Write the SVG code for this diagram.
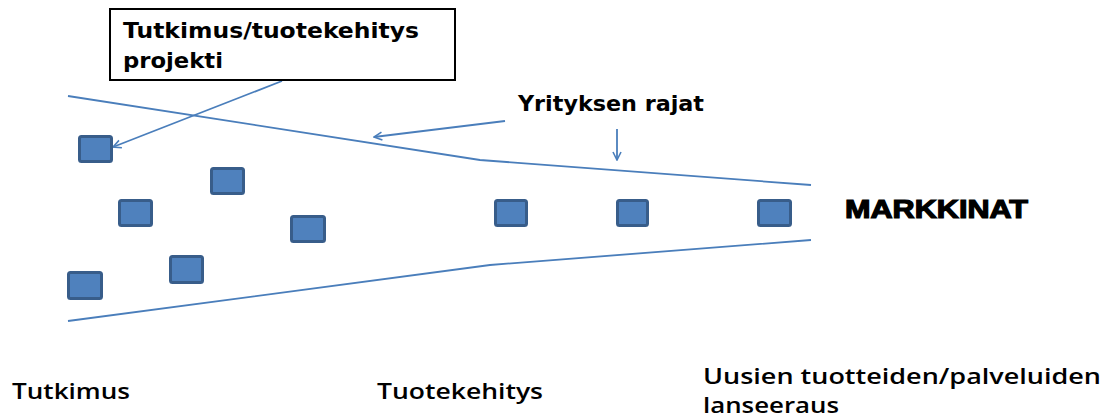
<svg xmlns="http://www.w3.org/2000/svg" width="1110" height="419" viewBox="0 0 1110 419">
  <style>
    .bound { fill: none; stroke: #4A7EBB; stroke-width: 1.8; }
    .arrow { fill: none; stroke: #4A7EBB; stroke-width: 1.8; marker-end: url(#openHead); }
    .proj { fill: #4F81BD; stroke: #385D8A; stroke-width: 3; }
    .callout { font-family: "DejaVu Sans", Verdana, sans-serif; font-weight: bold; font-size: 21px; fill: #000; }
    .phase { font-family: "Open Sans", "Liberation Sans", sans-serif; font-weight: 600; font-size: 22px; fill: #000; }
    .market { font-family: "Liberation Sans", Arial, sans-serif; font-weight: 900; font-size: 26px; fill: #000; stroke: #000; stroke-width: 1.2; }
  </style>
  <defs>
    <marker id="openHead" viewBox="0 0 10 10" refX="9" refY="5" markerWidth="10" markerHeight="10" markerUnits="userSpaceOnUse" orient="auto">
      <path d="M1,1 L9,5 L1,9" fill="none" stroke="#4A7EBB" stroke-width="1.6"/>
    </marker>
  </defs>
  <rect width="1110" height="419" fill="#fff"/>

  <!-- company boundary funnel and pointer arrows -->
  <g id="connectors">
    <polyline class="bound" points="68,96 480,160 811,185"/>
    <polyline class="bound" points="68,321 490,265 811,240"/>
    <line class="arrow" x1="282" y1="81" x2="113" y2="147"/>
    <line class="arrow" x1="505" y1="121" x2="374" y2="137"/>
    <line class="arrow" x1="617" y1="129" x2="617" y2="160"/>
  </g>

  <g id="label-project">
    <rect x="110" y="9" width="345" height="71" fill="#fff" stroke="#000" stroke-width="2"/>
    <text class="callout" x="123" y="38" textLength="296" lengthAdjust="spacingAndGlyphs">Tutkimus/tuotekehitys</text>
    <text class="callout" x="123" y="68" textLength="100" lengthAdjust="spacingAndGlyphs">projekti</text>
  </g>

  <g id="label-boundary">
    <text class="callout" x="518" y="111" textLength="186" lengthAdjust="spacingAndGlyphs">Yrityksen rajat</text>
  </g>

  <g id="label-market">
    <text class="market" x="845" y="218" textLength="183" lengthAdjust="spacingAndGlyphs">MARKKINAT</text>
  </g>

  <!-- projects -->
  <g id="p1"><rect class="proj" x="79.5" y="136.5" width="32" height="25" rx="2"/></g>
  <g id="p2"><rect class="proj" x="119.5" y="200.5" width="32" height="25" rx="2"/></g>
  <g id="p3"><rect class="proj" x="211.5" y="168.5" width="32" height="25" rx="2"/></g>
  <g id="p4"><rect class="proj" x="291.5" y="216.5" width="33" height="25" rx="2"/></g>
  <g id="p5"><rect class="proj" x="170.5" y="256.5" width="32" height="26" rx="2"/></g>
  <g id="p6"><rect class="proj" x="68.5" y="272.5" width="33" height="26" rx="2"/></g>
  <g id="p7"><rect class="proj" x="495.5" y="200.5" width="31" height="25" rx="2"/></g>
  <g id="p8"><rect class="proj" x="617.5" y="200.5" width="30" height="25" rx="2"/></g>
  <g id="p9"><rect class="proj" x="758.5" y="200.5" width="32" height="25" rx="2"/></g>

  <!-- phase labels -->
  <g id="phase-research">
    <text class="phase" x="12" y="399" textLength="118" lengthAdjust="spacingAndGlyphs">Tutkimus</text>
  </g>
  <g id="phase-development">
    <text class="phase" x="377" y="399" textLength="166" lengthAdjust="spacingAndGlyphs">Tuotekehitys</text>
  </g>
  <g id="phase-launch">
    <text class="phase" x="703" y="384" textLength="398" lengthAdjust="spacingAndGlyphs">Uusien tuotteiden/palveluiden</text>
    <text class="phase" x="703" y="413" textLength="136" lengthAdjust="spacingAndGlyphs">lanseeraus</text>
  </g>
</svg>
